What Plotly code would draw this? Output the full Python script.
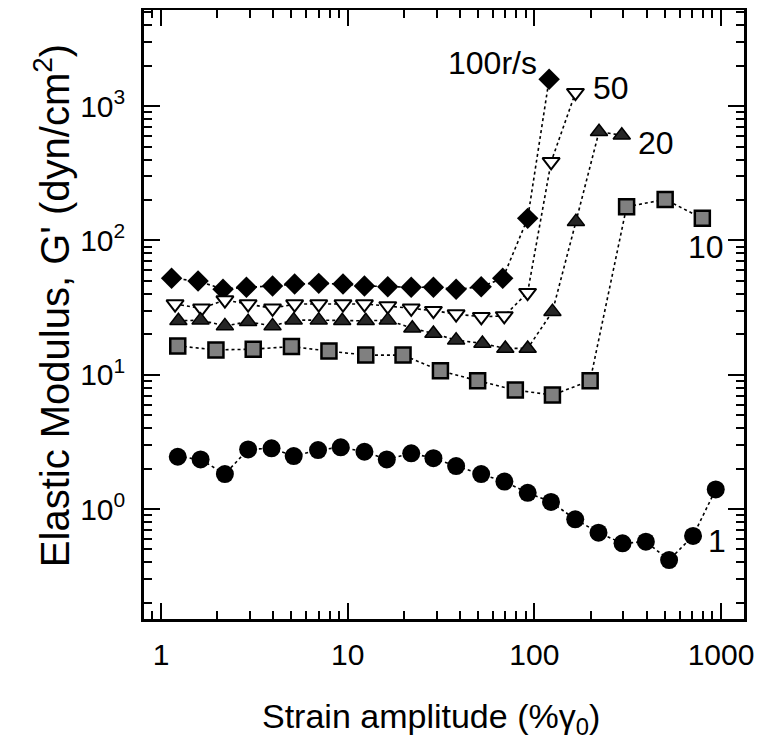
import math
import plotly.graph_objects as go

# ---- data ----
x100 = [1.14, 1.58, 2.15, 2.87, 3.96, 5.2, 7.0, 9.44, 12.3, 16.4, 21.9, 28.8, 38.1, 51.9, 67.7, 92.1, 120]
y100 = [52.2, 49.9, 43.3, 44.8, 45.8, 47.4, 47.9, 47.4, 45.8, 45.2, 44.8, 44.8, 43.3, 45.2, 52.2, 146, 1585]

x50 = [1.19, 1.65, 2.2, 2.93, 3.96, 5.2, 7.0, 9.44, 12.3, 16.4, 21.9, 28.8, 38.1, 52, 69, 92, 123, 166]
y50 = [33.6, 31.2, 36, 33.6, 31.2, 33.6, 33.6, 33.6, 33.6, 32.5, 31.2, 30, 28.3, 27, 27.4, 40.8, 385, 1259]

x20 = [1.24, 1.63, 2.2, 2.93, 3.96, 5.14, 7.0, 9.35, 12.5, 16.4, 22.2, 28.8, 38.1, 52.7, 69.9, 92.1, 125, 167, 222, 294]
y20 = [25.2, 25.5, 23.1, 24.8, 23.1, 25.5, 25.5, 25.2, 25.2, 25.5, 22.2, 20.3, 18.1, 17.1, 15.7, 15.7, 29.5, 138, 645, 608]

x10 = [1.23, 1.97, 3.12, 5.0, 7.94, 12.5, 19.8, 31.4, 49.7, 79.1, 125, 199, 312, 502, 794]
y10 = [16.4, 15.3, 15.5, 16.2, 15.0, 14.0, 14.0, 10.7, 9.02, 7.69, 7.06, 9.02, 178, 202, 146]

x1 = [1.23, 1.63, 2.2, 2.93, 3.91, 5.14, 6.94, 9.18, 12.3, 16.2, 21.9, 28.8, 38.1, 51.9,
      69.1, 92.1, 122.8, 165.6, 220.6, 296.7, 395.6, 527, 708, 937]
y1 = [2.45, 2.34, 1.82, 2.78, 2.83, 2.48, 2.75, 2.88, 2.67, 2.34, 2.6, 2.39, 2.09, 1.82,
      1.6, 1.32, 1.13, 0.838, 0.667, 0.555, 0.571, 0.417, 0.63, 1.4]

series_labels = ["100r/s", "50", "20", "10", "1"]

x_tickvals = [1, 10, 100, 1000]
x_ticktext = ["1", "10", "100", "1000"]
y_tickvals = [1, 10, 100, 1000]
y_ticktext = ["10<sup>0</sup>", "10<sup>1</sup>", "10<sup>2</sup>", "10<sup>3</sup>"]

FONT = "Liberation Sans, Arial, Helvetica, sans-serif"

fig = go.Figure()

def add(x, y, symbol, size, fill, lw):
    fig.add_trace(go.Scatter(
        x=x, y=y, mode="lines+markers",
        line=dict(color="black", width=1.6, dash="dot"),
        marker=dict(symbol=symbol, size=size, color=fill,
                    line=dict(color="black", width=lw)),
        showlegend=False, cliponaxis=False))

add(x100, y100, "diamond", 16.5, "black", 0)
add(x50, y50, "triangle-down", 15, "white", 2)
add(x20, y20, "triangle-up", 15, "#262626", 1.5)
add(x10, y10, "square", 15, "#808080", 2.5)
add(x1, y1, "circle", 18, "black", 0)

# labels anchored to last point of each series
lab = [
    (x100, y100, series_labels[0], "right", -10, 16),
    (x50, y50, series_labels[1], "left", 16, 5),
    (x20, y20, series_labels[2], "left", 14, -8),
    (x10, y10, series_labels[3], "center", 4, -29),
    (x1, y1, series_labels[4], "center", 1, -52),
]
for xs, ys, t, xa, dx, dy in lab:
    fig.add_annotation(x=math.log10(xs[-1]), y=math.log10(ys[-1]), text=t,
                       showarrow=False, xanchor=xa, yanchor="middle",
                       xshift=dx, yshift=dy,
                       font=dict(family=FONT, size=32, color="black"))

# axis titles as text annotations
fig.add_annotation(xref="paper", yref="paper", x=-0.123, y=0.514, xshift=-18,
                   text="Elastic Modulus, G' (dyn/cm<sup>2</sup>)", textangle=-90,
                   showarrow=False, xanchor="center", yanchor="middle",
                   font=dict(family=FONT, size=40, color="black"))
fig.add_annotation(xref="paper", yref="paper", x=0.478, y=-0.1626,
                   text="Strain amplitude (%γ<sub>0</sub>)",
                   showarrow=False, xanchor="center", yanchor="middle",
                   font=dict(family=FONT, size=34, color="black"))

minor_x = [m * 10 ** k for k in range(-1, 4) for m in range(2, 10)]
minor_y = [m * 10 ** k for k in range(-1, 4) for m in range(2, 10)]

fig.update_xaxes(type="log", range=[-0.0909, 3.123], automargin=False,
                 tickmode="array", tickvals=x_tickvals, ticktext=x_ticktext,
                 ticks="inside", ticklen=16, tickwidth=2, tickcolor="black",
                 showline=True, linecolor="black", linewidth=2.5, mirror="allticks",
                 showgrid=False, zeroline=False, ticklabelstandoff=7,
                 minor=dict(tickmode="array", tickvals=minor_x, ticks="inside",
                            ticklen=8, tickwidth=1.5, tickcolor="black", showgrid=False),
                 tickfont=dict(family=FONT, size=30, color="black"))
fig.update_yaxes(type="log", range=[-0.819, 3.716], automargin=False,
                 tickmode="array", tickvals=y_tickvals, ticktext=y_ticktext,
                 ticks="inside", ticklen=16, tickwidth=2, tickcolor="black",
                 showline=True, linecolor="black", linewidth=2.5, mirror="allticks",
                 showgrid=False, zeroline=False, ticklabelstandoff=10,
                 minor=dict(tickmode="array", tickvals=minor_y, ticks="inside",
                            ticklen=8, tickwidth=1.5, tickcolor="black", showgrid=False),
                 tickfont=dict(family=FONT, size=30, color="black"))

# page body has an 8px margin: size the figure so the plot frame lands at 144..744 x 10..619
fig.update_layout(width=754, height=739,
                  margin=dict(l=136, r=18, t=2, b=128),
                  paper_bgcolor="white", plot_bgcolor="white",
                  font=dict(family=FONT, color="black"))

fig.write_html("out.html")
